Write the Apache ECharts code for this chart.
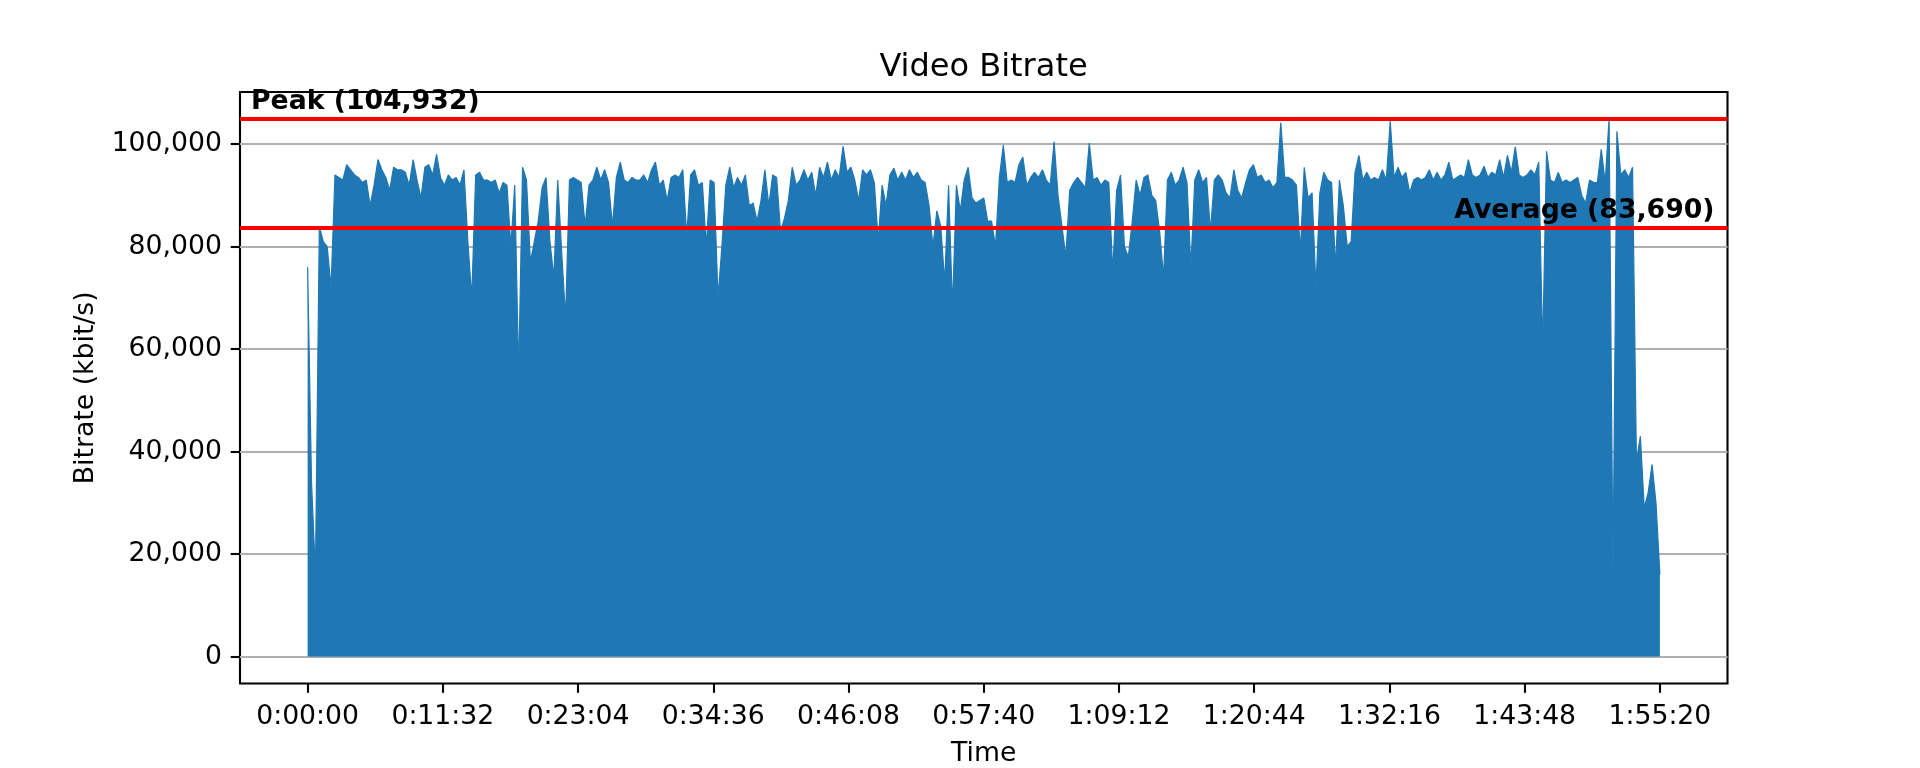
<!DOCTYPE html>
<html>
<head>
<meta charset="utf-8">
<script src="https://cdn.jsdelivr.net/npm/echarts@6/dist/echarts.min.js"></script>
<style>
html,body{margin:0;padding:0;background:#ffffff;}
#chart{width:1920px;height:768px;}
</style>
</head>
<body>
<div id="chart"></div>
<script>
// Sampling interval of the read-off bitrate trace (seconds)
const SAMPLE_STEP_S = 20;

// Bitrate (kbit/s), one value every 20 s
const bitrateSegA = [ // 0:00:00 - 0:28:00
  76000,34000,16000,84000,81000,80000,72000,94000,93500,93000,
  96000,95000,94000,93500,92500,93000,88000,92000,97000,95000,
  93500,91000,95500,95000,95000,94500,92000,97000,93000,89500,
  95500,96000,94000,98000,93500,92000,94000,93000,93500,92000,
  95000,81000,70000,94000,94500,93000,93000,92500,93000,90500,
  92500,92000,80000,92000,55000,95500,93000,77000,81000,85000,
  91500,93500,81000,74000,93000,79000,66000,93000,93500,93000,
  92500,84000,92000,93000,95500,93000,95000,92500,84000,93500,
  96500,93000,92500,93500,93000
];
const bitrateSegB = [ // 0:28:20 - 0:56:20
  93000,94000,92500,95000,96500,92000,93000,89000,93500,94000,
  93500,95000,82000,94000,95000,92000,92500,80000,93000,92500,
  70000,80000,92000,95500,91500,93500,92000,94000,88000,88500,
  85000,89000,95000,88000,94000,93500,83000,85500,89000,95500,
  92000,93000,95000,93000,94500,90000,95500,93500,96500,93000,
  95000,93500,99600,94500,95500,93000,89000,95000,94000,95000,
  92500,81000,92000,88000,94000,95300,93000,94500,93000,95000,
  93500,94500,93000,92500,88000,80000,87000,84000,73000,92000,
  68000,92000,87000,93000,95500
];
const bitrateSegC = [ // 0:56:40 - 1:26:00
  89500,88500,89000,89500,85000,85000,80000,93500,99800,92500,
  93000,92500,96000,97500,92000,93500,94500,93500,95000,93000,
  92000,100500,90000,84000,78000,91000,92500,93500,92500,91500,
  100200,93000,93500,92000,93000,92500,75000,91000,94000,80000,
  78000,85000,93000,90000,93500,94000,90000,89000,83000,74000,
  93000,94500,92000,93000,95500,92500,76000,93000,95000,92500,
  93500,83000,93000,94000,93000,90500,89500,95000,91000,89500,
  92500,95000,96000,93500,94000,92500,93000,91500,92500,104200,
  93500,93500,93000,92000,79000,95500,89500,90500,72000
];
const bitrateSegD = [ // 1:26:20 - 1:55:20
  90500,94500,93000,92500,76000,93000,88000,80000,81000,94500,
  97800,93000,94500,93000,93500,93000,95000,93000,104500,93500,
  95500,93500,94500,90500,93000,93500,93000,93500,95000,93000,
  94500,93000,94000,96500,93000,93500,94000,93500,97000,94000,
  93500,94000,95700,93500,94500,94000,97000,93500,97800,94500,
  99500,94000,93500,94000,95000,94000,96500,60000,98600,93000,
  92500,94500,92500,93000,92500,93000,93500,90000,88500,93000,
  92500,92500,99000,92500,104932,16500,102500,94000,95000,93500,
  95500,38000,43000,29000,32000,37500,30000,16000
];

// Reference lines
const peakValue = 104932;
const averageValue = 83690;
const peakLabel = 'Peak (104,932)';
const averageLabel = 'Average (83,690)';

// Tick positions / labels
const xTickValues = [0, 692, 1384, 2076, 2768, 3460, 4152, 4844, 5536, 6228, 6920];
const xTickLabels = ['0:00:00','0:11:32','0:23:04','0:34:36','0:46:08','0:57:40','1:09:12','1:20:44','1:32:16','1:43:48','1:55:20'];
const yTickValues = [0, 20000, 40000, 60000, 80000, 100000];
const yTickLabels = ['0','20,000','40,000','60,000','80,000','100,000'];

const bitrate = [].concat(bitrateSegA, bitrateSegB, bitrateSegC, bitrateSegD);
const seriesData = bitrate.map((v, i) => [i * SAMPLE_STEP_S, v]);

const tMax = (bitrate.length - 1) * SAMPLE_STEP_S;
const xPad = tMax * 0.05;
const yPad = peakValue * 0.05;

const FONT = 'DejaVu Sans';
const FS = 26.7;

const chart = echarts.init(document.getElementById('chart'), null, {renderer: 'canvas'});
chart.setOption({
  backgroundColor: '#ffffff',
  animation: false,
  title: {
    text: 'Video Bitrate',
    left: 983.5,
    textAlign: 'center',
    top: 52,
    padding: 0,
    textStyle: {fontFamily: FONT, fontSize: 32, fontWeight: 'normal', color: '#000'}
  },
  grid: {
    left: 240, right: 192.5, top: 92, bottom: 84.5,
    show: true, borderColor: '#000', borderWidth: 2.1,
    backgroundColor: 'transparent',
    containLabel: false,
    outerBoundsMode: 'none'
  },
  xAxis: {
    type: 'value',
    min: -xPad,
    max: tMax + xPad,
    name: 'Time',
    nameLocation: 'middle',
    nameGap: 57,
    nameTextStyle: {fontFamily: FONT, fontSize: FS, color: '#000'},
    axisLine: {show: false, onZero: false},
    axisTick: {show: true, length: 9.3, lineStyle: {color: '#000', width: 2.1}, customValues: xTickValues},
    axisLabel: {
      show: true, margin: 20, fontFamily: FONT, fontSize: FS, color: '#000',
      customValues: xTickValues,
      formatter: (v) => { const i = xTickValues.indexOf(v); return i >= 0 ? xTickLabels[i] : ''; }
    },
    splitLine: {show: false}
  },
  yAxis: {
    type: 'value',
    min: -yPad,
    max: peakValue + yPad,
    name: 'Bitrate (kbit/s)',
    nameLocation: 'middle',
    nameRotate: 90,
    nameGap: 140,
    nameTextStyle: {fontFamily: FONT, fontSize: FS, color: '#000'},
    axisLine: {show: false, onZero: false},
    axisTick: {show: true, length: 9.3, lineStyle: {color: '#000', width: 2.1}, customValues: yTickValues},
    axisLabel: {
      show: true, margin: 18, fontFamily: FONT, fontSize: FS, color: '#000',
      customValues: yTickValues,
      formatter: (v) => { const i = yTickValues.indexOf(v); return i >= 0 ? yTickLabels[i] : ''; }
    },
    splitLine: {show: true, lineStyle: {color: '#b0b0b0', width: 2.1}}
  },
  series: [{
    type: 'line',
    data: seriesData,
    showSymbol: false,
    symbol: 'none',
    sampling: 'none',
    lineStyle: {color: '#1f77b4', width: 1.2},
    areaStyle: {color: '#1f77b4', opacity: 1},
    markLine: {
      silent: true,
      symbol: 'none',
      animation: false,
      lineStyle: {color: '#ff0000', width: 4, type: 'solid'},
      data: [
        {
          yAxis: peakValue,
          label: {show: true, position: 'insideStartTop', formatter: peakLabel, distance: [11, 3],
                  fontFamily: FONT, fontSize: FS, fontWeight: 'bold', color: '#000'}
        },
        {
          yAxis: averageValue,
          label: {show: true, position: 'insideEndTop', formatter: averageLabel, distance: [13, 3],
                  fontFamily: FONT, fontSize: FS, fontWeight: 'bold', color: '#000'}
        }
      ]
    }
  }]
});
</script>
</body>
</html>
